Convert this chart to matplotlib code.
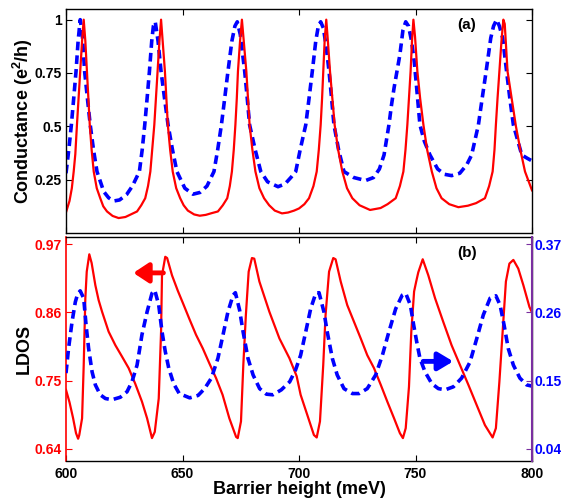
import matplotlib
matplotlib.use("Agg")
import matplotlib.pyplot as plt

plt.rcParams['font.family'] = ['Liberation Sans', 'DejaVu Sans']
plt.rcParams['font.weight'] = 'bold'
plt.rcParams['mathtext.fontset'] = 'custom'
plt.rcParams['mathtext.rm'] = 'Liberation Sans:bold'
plt.rcParams['mathtext.default'] = 'rm'

# ---------------- data ----------------
x_cond_red = [600.0, 601.5, 602.5, 603.3, 604.0, 604.7, 605.4, 606.1, 606.9, 607.6,
              608.3, 609.0, 609.6, 610.2, 611.0, 611.9, 613.2, 614.7, 616.0, 617.6,
              620.0, 622.6, 625.5, 628.0, 630.5, 632.3, 634.0, 635.2, 636.2, 637.0,
              637.9, 638.6, 639.3, 640.1, 640.8, 641.5, 642.45, 643.1, 643.7, 644.7,
              645.8, 647.3, 649.0, 650.5, 652.3, 655.0, 657.4, 660.0, 662.5, 665.2,
              667.3, 669.2, 670.3, 671.2, 672.0, 672.7, 673.3, 673.8, 674.7, 675.5,
              676.3, 677.4, 678.1, 678.8, 680.0, 681.3, 683.0, 685.0, 687.2, 689.6,
              692.7, 695.3, 697.9, 700.0, 702.3, 704.3, 706.2, 707.6, 708.5, 709.3,
              709.9, 710.4, 711.0, 711.7, 712.4, 713.3, 714.3, 715.3, 716.8, 718.6,
              720.6, 722.9, 726.0, 730.5, 735.0, 738.0, 741.5, 743.3, 744.8, 745.7,
              746.5, 747.2, 747.9, 748.5, 749.1, 749.8, 750.8, 752.0, 753.4, 755.0,
              757.0, 759.0, 761.2, 764.5, 768.4, 772.5, 776.0, 779.8, 781.6, 783.1,
              783.9, 784.5, 785.2, 786.0, 786.9, 787.7, 788.3, 789.5, 791.3, 793.1,
              795.0, 797.0, 800.0]
cond_red = [0.097, 0.15, 0.21, 0.288, 0.37, 0.507, 0.63, 0.758, 0.90, 1.0,
            0.90, 0.758, 0.63, 0.507, 0.39, 0.288, 0.21, 0.163, 0.125, 0.101,
            0.080, 0.070, 0.075, 0.088, 0.101, 0.13, 0.163, 0.22, 0.288, 0.39,
            0.507, 0.63, 0.758, 0.90, 1.0, 0.90, 0.758, 0.63, 0.507, 0.39,
            0.288, 0.21, 0.163, 0.13, 0.105, 0.087, 0.081, 0.085, 0.093, 0.101,
            0.13, 0.163, 0.22, 0.288, 0.39, 0.507, 0.63, 0.758, 0.90, 1.0,
            0.90, 0.758, 0.63, 0.507, 0.39, 0.288, 0.21, 0.163, 0.13, 0.105,
            0.092, 0.096, 0.105, 0.115, 0.135, 0.163, 0.22, 0.288, 0.39, 0.507,
            0.63, 0.758, 0.90, 1.0, 0.90, 0.758, 0.63, 0.507, 0.39, 0.288,
            0.21, 0.163, 0.13, 0.108, 0.117, 0.135, 0.163, 0.22, 0.288, 0.39,
            0.507, 0.63, 0.758, 0.90, 1.0, 0.92, 0.758, 0.63, 0.507, 0.39,
            0.288, 0.21, 0.163, 0.135, 0.121, 0.128, 0.14, 0.163, 0.22, 0.288,
            0.39, 0.507, 0.63, 0.758, 0.90, 1.0, 0.98, 0.758, 0.63, 0.50,
            0.39, 0.288, 0.20]

x_cond_blue = [600.0, 601.3, 602.3, 603.3, 604.3, 605.2, 606.1, 607.0, 608.0, 609.2,
               610.4, 611.8, 613.3, 616.2, 618.3, 620.5, 623.0, 626.0, 628.5, 631.5,
               632.7, 633.8, 634.8, 635.8, 636.8, 637.5, 638.3, 639.5, 640.8, 642.3,
               643.8, 645.7, 647.6, 651.0, 654.5, 657.5, 660.5, 663.5, 665.1, 666.7,
               668.1, 669.5, 671.2, 672.5, 673.5, 674.8, 676.7, 677.8, 678.8, 681.2,
               683.6, 686.5, 691.0, 694.0, 696.5, 698.6, 700.5, 702.9, 704.3, 705.7,
               707.2, 708.3, 709.3, 710.5, 711.7, 712.9, 714.0, 715.0, 717.0, 719.3,
               723.5, 728.6, 732.0, 734.5, 736.5, 738.6, 739.7, 740.8, 743.3, 744.6,
               745.8, 747.0, 748.3, 749.5, 750.5, 751.9, 753.8, 756.2, 759.5, 762.5,
               765.5, 769.0, 772.0, 774.1, 777.0, 778.6, 780.3, 782.3, 783.5, 784.8,
               786.0, 787.4, 789.1, 790.5, 792.0, 795.6, 798.0, 800.0]
cond_blue = [0.28, 0.40, 0.507, 0.63, 0.757, 0.90, 1.0, 0.93, 0.757, 0.63,
             0.507, 0.39, 0.288, 0.194, 0.165, 0.15, 0.155, 0.18, 0.22, 0.288,
             0.39, 0.507, 0.63, 0.757, 0.90, 0.97, 0.99, 0.90, 0.757, 0.63,
             0.507, 0.39, 0.288, 0.21, 0.182, 0.19, 0.22, 0.288, 0.39, 0.507,
             0.63, 0.757, 0.90, 0.97, 0.99, 0.93, 0.757, 0.63, 0.507, 0.39,
             0.288, 0.24, 0.217, 0.23, 0.26, 0.288, 0.39, 0.507, 0.63, 0.757,
             0.90, 0.97, 0.99, 0.96, 0.87, 0.757, 0.63, 0.507, 0.39, 0.288,
             0.26, 0.246, 0.26, 0.30, 0.366, 0.507, 0.60, 0.68, 0.836, 0.95,
             0.99, 0.97, 0.90, 0.80, 0.68, 0.507, 0.43, 0.366, 0.30, 0.275,
             0.269, 0.28, 0.32, 0.366, 0.507, 0.63, 0.757, 0.914, 0.97, 1.0,
             0.97, 0.914, 0.757, 0.63, 0.507, 0.366, 0.35, 0.338]

x_ldos_red = [600.0, 601.5, 603.0, 604.3, 605.2, 605.7, 606.9, 607.6, 608.3, 608.9,
              610.0, 611.0, 612.6, 614.0, 615.5, 618.3, 621.2, 624.0, 626.9, 629.7,
              632.6, 634.8, 636.9, 638.1, 639.8, 640.8, 641.2, 642.6, 643.4, 645.5,
              648.0, 650.2, 652.9, 655.8, 658.7, 661.5, 664.4, 667.2, 670.1, 673.0,
              673.7, 675.1, 676.1, 677.2, 678.4, 679.8, 680.8, 683.0, 687.3, 691.6,
              695.9, 699.0, 700.7, 703.6, 706.4, 707.6, 709.0, 710.4, 711.4, 712.9,
              714.7, 715.7, 717.9, 720.7, 723.6, 726.5, 729.3, 732.2, 735.1, 737.9,
              740.8, 743.3, 744.6, 745.8, 747.2, 748.2, 749.4, 750.3, 751.2, 753.1,
              755.5, 758.4, 761.9, 765.5, 769.1, 772.7, 776.3, 779.8, 783.1, 784.5,
              786.0, 787.4, 788.8, 790.3, 792.0, 794.1, 796.3, 798.9, 800.0]
ldos_red = [0.735, 0.715, 0.69, 0.665, 0.656, 0.662, 0.689, 0.775, 0.883, 0.926,
            0.954, 0.94, 0.904, 0.88, 0.861, 0.829, 0.807, 0.789, 0.77, 0.745,
            0.716, 0.689, 0.657, 0.667, 0.721, 0.829, 0.92, 0.95, 0.948, 0.92,
            0.895, 0.875, 0.85, 0.824, 0.802, 0.778, 0.754, 0.727, 0.689, 0.659,
            0.657, 0.684, 0.775, 0.856, 0.926, 0.948, 0.947, 0.91, 0.861, 0.818,
            0.786, 0.757, 0.727, 0.694, 0.662, 0.658, 0.684, 0.775, 0.856, 0.926,
            0.948, 0.946, 0.91, 0.872, 0.845, 0.818, 0.791, 0.77, 0.743, 0.716,
            0.689, 0.665, 0.657, 0.673, 0.74, 0.829, 0.894, 0.91, 0.925, 0.946,
            0.92, 0.883, 0.845, 0.807, 0.775, 0.743, 0.71, 0.678, 0.658, 0.673,
            0.748, 0.829, 0.91, 0.939, 0.945, 0.931, 0.904, 0.869, 0.86]

x_ldos_blue = [600.0, 601.1, 602.6, 604.0, 605.0, 606.1, 607.6, 608.6, 609.7, 611.2,
               612.6, 614.7, 616.9, 619.7, 623.3, 626.2, 628.3, 630.5, 632.6, 634.8,
               636.9, 638.1, 639.8, 641.2, 642.6, 644.1, 646.2, 648.6, 653.1, 656.7,
               659.5, 662.4, 665.2, 667.4, 669.5, 671.7, 672.7, 674.5, 676.0, 678.1,
               680.3, 683.1, 686.0, 688.8, 692.4, 696.0, 698.5, 700.7, 702.9, 705.0,
               707.2, 708.6, 710.7, 712.1, 714.3, 716.4, 719.3, 722.9, 725.8, 729.3,
               732.9, 735.8, 738.6, 741.5, 744.3, 745.8, 747.8, 749.2, 750.5, 751.9,
               754.1, 757.0, 759.8, 762.7, 766.3, 769.8, 773.4, 776.3, 779.1, 782.0,
               784.5, 786.3, 788.0, 789.8, 792.0, 794.8, 797.7, 800.0]
ldos_blue = [0.162, 0.202, 0.245, 0.277, 0.29, 0.295, 0.283, 0.24, 0.202, 0.164,
             0.143, 0.127, 0.121, 0.119, 0.123, 0.132, 0.148, 0.175, 0.224, 0.261,
             0.291, 0.296, 0.272, 0.229, 0.197, 0.17, 0.145, 0.129, 0.122, 0.126,
             0.137, 0.154, 0.186, 0.224, 0.261, 0.288, 0.292, 0.264, 0.229, 0.186,
             0.159, 0.137, 0.128, 0.127, 0.135, 0.148, 0.167, 0.191, 0.229, 0.266,
             0.291, 0.292, 0.261, 0.229, 0.186, 0.159, 0.137, 0.129, 0.129, 0.137,
             0.159, 0.191, 0.229, 0.266, 0.288, 0.291, 0.272, 0.24, 0.213, 0.186,
             0.164, 0.145, 0.137, 0.135, 0.14, 0.154, 0.18, 0.218, 0.256, 0.283,
             0.287, 0.272, 0.24, 0.202, 0.175, 0.154, 0.143, 0.141]

x_ticks = [600, 650, 700, 750, 800]
cond_ticks = [0.25, 0.5, 0.75, 1]
cond_ticklabels = ['0.25', '0.5', '0.75', '1']
ldos_ticks = [0.64, 0.75, 0.86, 0.97]
ldos_right_ticks = [0.04, 0.15, 0.26, 0.37]

RED = '#ff0000'
BLUE = '#0000ff'
PURPLE = '#7a2fa0'

W, H = 561, 499
fig = plt.figure(figsize=(W / 100, H / 100), dpi=100)

def frac(x0, y0, x1, y1):
    return [x0 / W, 1 - y1 / H, (x1 - x0) / W, (y1 - y0) / H]

ax1 = fig.add_axes(frac(66, 9, 532, 233))
ax2 = fig.add_axes(frac(66, 237, 532, 461))
ax3 = ax2.twinx()

dash = (0, (2.4, 1.4))

# top panel
ax1.plot(x_cond_blue, cond_blue, color=BLUE, lw=2.6, linestyle=dash)
ax1.plot(x_cond_red, cond_red, color=RED, lw=1.6)
ax1.set_xlim(600, 800)
ax1.set_ylim(0, 1.05)
ax1.set_xticks(x_ticks)
ax1.set_xticklabels([])
ax1.set_yticks(cond_ticks)
ax1.set_yticklabels(cond_ticklabels)
ax1.tick_params(direction='in', top=True, right=True, length=4, width=0.8,
                labelsize=10, pad=3)
ax1.set_ylabel('Conductance (e$^{2}$/h)', fontsize=13, fontweight='bold')
ax1.yaxis.set_label_coords(-0.066, 0.5)
ax1.text(0.86, 0.93, '(a)', transform=ax1.transAxes, fontsize=11,
         fontweight='bold', ha='center', va='center')
for s in ax1.spines.values():
    s.set_linewidth(1.0)

# bottom panel
ax2.plot(x_ldos_red, ldos_red, color=RED, lw=1.6)
ax2.set_xlim(600, 800)
ax2.set_ylim(0.62, 0.982)
ax2.set_xticks(x_ticks)
ax2.set_yticks(ldos_ticks)
ax2.set_yticklabels([f'{v:.2f}' for v in ldos_ticks])
ax2.tick_params(axis='x', direction='in', top=True, length=4, width=0.8,
                labelsize=10, pad=4)
ax2.tick_params(axis='y', direction='in', length=4, width=0.8, labelsize=10,
                pad=3, colors=RED)
ax2.spines['left'].set_color(RED)
ax2.set_ylabel('LDOS', fontsize=13, fontweight='bold')
ax2.yaxis.set_label_coords(-0.072, 0.5)
ax2.set_xlabel('Barrier height (meV)', fontsize=13, fontweight='bold')
ax2.xaxis.set_label_coords(0.5, -0.09)
for s in ax2.spines.values():
    s.set_linewidth(1.0)
ax2.spines['left'].set_linewidth(1.2)

ax3.plot(x_ldos_blue, ldos_blue, color=BLUE, lw=2.6, linestyle=dash)
ax3.set_ylim(0.02, 0.382)
ax3.set_yticks(ldos_right_ticks)
ax3.set_yticklabels([f'{v:.2f}' for v in ldos_right_ticks])
ax3.tick_params(axis='y', direction='in', length=4, width=0.8, labelsize=10,
                pad=2, color=PURPLE, labelcolor=BLUE)
ax3.spines['right'].set_color(PURPLE)
ax3.spines['right'].set_linewidth(1.5)
ax3.spines['left'].set_visible(False)
ax3.spines['top'].set_visible(False)
ax3.spines['bottom'].set_visible(False)
ax3.text(0.86, 0.93, '(b)', transform=ax3.transAxes, fontsize=11,
         fontweight='bold', ha='center', va='center')

# arrows
ax2.annotate('', xy=(628.9, 0.924), xytext=(641.8, 0.924),
             arrowprops=dict(arrowstyle='-|>,head_length=0.5,head_width=0.33',
                             lw=3.5, color=RED, mutation_scale=18,
                             shrinkA=0, shrinkB=0))
ax3.annotate('', xy=(766.2, 0.181), xytext=(753.3, 0.181),
             arrowprops=dict(arrowstyle='-|>,head_length=0.5,head_width=0.3',
                             lw=3.5, color=BLUE, mutation_scale=18,
                             shrinkA=0, shrinkB=0))

fig.savefig('out.png', dpi=100)
